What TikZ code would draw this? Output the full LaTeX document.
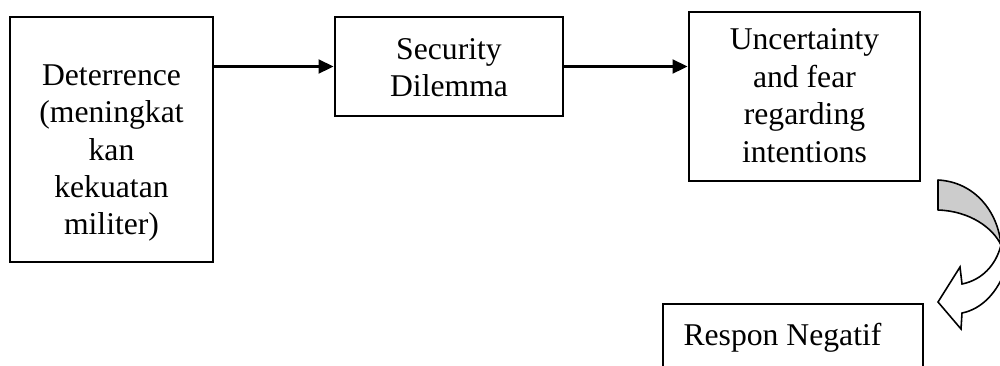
\documentclass[tikz,border=0pt]{standalone}
\usepackage{fontspec}
\setmainfont{Liberation Serif}
\usetikzlibrary{arrows.meta,fit}

\begin{document}
\begin{tikzpicture}[x=0.379pt, y=-0.379pt,
  every node/.style={font=\fontsize{12}{14.2}\selectfont},
  box/.style={draw, line width=1.1pt, inner sep=0pt},
  txt/.style={inner sep=0pt, align=center},
  link/.style={line width=0.8pt, -{Triangle[length=5.7pt,width=5.3pt]}}]
\useasboundingbox (0,0) rectangle (1000,365);
\clip (0,0) rectangle (1000,365);

\coordinate (D1) at (10,17);
\coordinate (D2) at (213,262);
\coordinate (S1) at (335,17);
\coordinate (S2) at (563,116);
\coordinate (U1) at (689,12);
\coordinate (U2) at (920,181);
\coordinate (R1) at (663,304);
\coordinate (R2) at (923,371);

\node[box, fit=(D1)(D2)] (Det) {};
\node[box, fit=(S1)(S2)] (Sec) {};
\node[box, fit=(U1)(U2)] (Unc) {};
\node[box, fit=(R1)(R2)] (Resp) {};

\node[txt] (DetText) at (111.5,153) {Deterrence\\(meningkat\\kan\\kekuatan\\militer)};
\node[txt] (SecText) at (449,67.5) {Security\\Dilemma};
\node[txt] (UncText) at (804.5,95.5) {Uncertainty\\and fear\\regarding\\intentions};
\node[txt, anchor=base west] (RespText) at (683,345) {Respon Negatif};

\draw[link] (Det.east |- Sec.west) -- (Sec.west);
\draw[link] (Sec.east) -- (Unc.west |- Sec.east);

% curved arrow, shaded back part
\filldraw[fill=black!20, line width=0.6pt, line join=round]
  (938,180) .. controls (975,182) and (998,212) .. (1001,245)
  .. controls (993,228) and (970,211) .. (938,210) -- cycle;
% front part with the head
\draw[line width=0.6pt, line join=miter]
  (1001,245) .. controls (996,265) and (982,280) .. (962,284)
  -- (960,267) -- (938,302) -- (961,329) -- (962,313)
  .. controls (982,309) and (998,292) .. (1006,268);
\end{tikzpicture}
\end{document}
